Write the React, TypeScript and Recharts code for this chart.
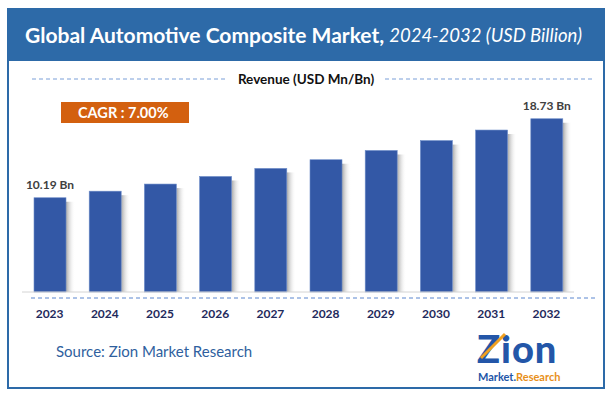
import { BarChart, Bar, XAxis, YAxis, LabelList } from 'recharts'

const YEARS = ['2023', '2024', '2025', '2026', '2027', '2028', '2029', '2030', '2031', '2032']
const REVENUE = [10.19, 10.9, 11.67, 12.49, 13.36, 14.3, 15.3, 16.37, 17.51, 18.73]
const LABELLED = [0, 9]

const FONT = 'Lato, "Open Sans", sans-serif'
const BLUE = '#2d6aa8'

const data = YEARS.map((year, i) => ({ year, revenue: REVENUE[i] }))

// bar with a soft grey shadow on its right side
const ShadowBar = (props: any) => {
  const { x, y, width, height } = props
  if (!height) return null
  return (
    <g>
      <rect x={x + width} y={y + 4} width={9} height={height - 4} fill="url(#barShadow)" />
      <rect x={x} y={y} width={width} height={height} fill="#3358a6" stroke="#6d8cc8" strokeWidth={0.6} />
    </g>
  )
}

const valueLabel = (props: any) => {
  const { x, y, width, index, value } = props
  if (!LABELLED.includes(index)) return null
  return (
    <text x={x + width / 2} y={y - 9} textAnchor="middle" fontSize={12} fontWeight={700} fill="#404040" fontFamily={FONT}>
      {value.toFixed(2)} Bn
    </text>
  )
}

export default function App() {
  return (
    <div style={{ position: 'absolute', left: 0, top: 0, width: 612, height: 397, background: '#fff', fontFamily: FONT }}>
      <div style={{ position: 'absolute', left: 7, top: 8, width: 594, height: 377, border: `2px solid ${BLUE}` }} />
      <div style={{ position: 'absolute', left: 7, top: 8, width: 598, height: 53, background: BLUE, color: '#fff', display: 'flex', alignItems: 'center', paddingLeft: 18, boxSizing: 'border-box', whiteSpace: 'nowrap' }}>
        <span style={{ fontSize: 21, fontWeight: 700 }}>Global Automotive Composite Market,</span>
        <span style={{ fontSize: 18.5, fontStyle: 'italic', marginLeft: 5 }}>2024-2032 (USD Billion)</span>
      </div>

      <svg width={612} height={397} style={{ position: 'absolute', left: 0, top: 0 }}>
        <line x1={32} x2={226} y1={79} y2={79} stroke="#7a9fd8" strokeWidth={1} strokeDasharray="4 3" />
        <line x1={385} x2={594} y1={79} y2={79} stroke="#7a9fd8" strokeWidth={1} strokeDasharray="4 3" />
        <text x={306} y={83.5} textAnchor="middle" fontSize={13.5} fontWeight={700} fill="#111" fontFamily={FONT}>Revenue (USD Mn/Bn)</text>
        <rect x={61} y={102} width={128} height={21} fill="#d3600f" />
        <text x={78} y={118} fontSize={14.5} fontWeight={700} fill="#fff" fontFamily={FONT}>CAGR : 7.00%</text>
        <line x1={31} x2={597} y1={298} y2={298} stroke="#5a86cf" strokeWidth={1} strokeDasharray="4 3" />
        <text x={56} y={357} fontSize={15} fill="#2f5f9e" fontFamily={FONT}>Source: Zion Market Research</text>
        <text x={477} y={363} fontSize={38} fontWeight={900} fill="#2356a8" fontFamily={FONT} letterSpacing={1}>Zion</text>
        <line x1={481} x2={505} y1={358} y2={334} stroke="#f0a020" strokeWidth={3} />
        <text x={478} y={381} fontSize={11} fontWeight={700} fontFamily={FONT}>
          <tspan fill="#2356a8">Market.</tspan>
          <tspan fill="#e8901a">Research</tspan>
        </text>
      </svg>

      <div style={{ position: 'absolute', left: 0, top: 0 }}>
        <BarChart width={612} height={397} data={data} margin={{ top: 107, right: 38, bottom: 75, left: 22 }} barCategoryGap={0}>
          <defs>
            <linearGradient id="barShadow" x1="0" y1="0" x2="1" y2="0">
              <stop offset="0%" stopColor="#8a8a8a" stopOpacity={0.75} />
              <stop offset="100%" stopColor="#ffffff" stopOpacity={0} />
            </linearGradient>
          </defs>
          <XAxis dataKey="year" height={30} axisLine={{ stroke: '#d4d4d4' }} tickLine={false} tick={{ fontSize: 12, fontWeight: 700, fill: '#1f2a5c', fontFamily: FONT }} tickMargin={11} />
          <YAxis hide domain={[0, 20]} />
          <Bar dataKey="revenue" barSize={32} shape={ShadowBar} isAnimationActive={false}>
            <LabelList dataKey="revenue" content={valueLabel} />
          </Bar>
        </BarChart>
      </div>
    </div>
  )
}
